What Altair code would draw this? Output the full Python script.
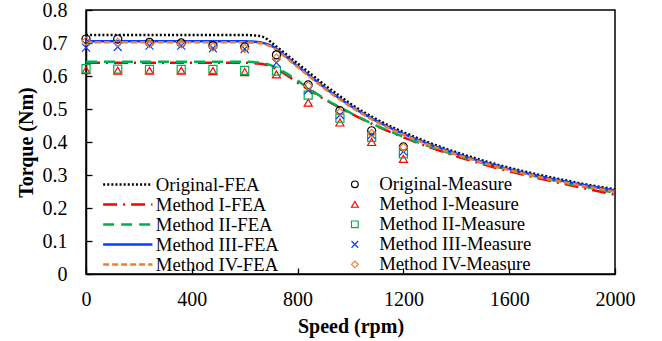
import altair as alt
import pandas as pd

# ---------------- data ----------------
fea_names = ["Original-FEA", "Method I-FEA", "Method II-FEA", "Method III-FEA", "Method IV-FEA"]
fea_speed = [0, 100, 200, 300, 400, 500, 600, 650, 680, 700, 750, 800, 850, 900, 950,
             1000, 1100, 1200, 1300, 1400, 1500, 1600, 1700, 1800, 1900, 2000]
orig_fea = [0.724, 0.724, 0.724, 0.724, 0.724, 0.724, 0.724, 0.722, 0.714, 0.702, 0.670, 0.638, 0.606, 0.574, 0.545,
            0.516, 0.468, 0.430, 0.397, 0.369, 0.344, 0.322, 0.303, 0.286, 0.270, 0.257]
m1_fea = [0.640, 0.640, 0.640, 0.640, 0.640, 0.640, 0.640, 0.638, 0.634, 0.628, 0.607, 0.580, 0.555, 0.530, 0.508,
          0.487, 0.448, 0.414, 0.384, 0.357, 0.333, 0.311, 0.292, 0.274, 0.257, 0.240]
m2_fea = [0.643, 0.643, 0.643, 0.643, 0.643, 0.643, 0.643, 0.641, 0.637, 0.632, 0.612, 0.586, 0.558, 0.532, 0.509,
          0.488, 0.449, 0.416, 0.386, 0.360, 0.336, 0.315, 0.296, 0.278, 0.262, 0.246]
m3_fea = [0.705, 0.705, 0.705, 0.705, 0.705, 0.705, 0.705, 0.703, 0.698, 0.692, 0.663, 0.630, 0.598, 0.566, 0.537,
          0.510, 0.463, 0.425, 0.393, 0.365, 0.340, 0.318, 0.299, 0.282, 0.267, 0.253]
m4_fea = [0.702, 0.702, 0.702, 0.702, 0.702, 0.702, 0.702, 0.700, 0.695, 0.689, 0.660, 0.627, 0.595, 0.563, 0.534,
          0.507, 0.460, 0.422, 0.390, 0.362, 0.337, 0.315, 0.296, 0.279, 0.264, 0.249]

meas_names = ["Original-Measure", "Method I-Measure", "Method II-Measure", "Method III-Measure", "Method IV-Measure"]
meas_speed = [0, 120, 240, 360, 480, 600, 720, 840, 960, 1080, 1200]
orig_meas = [0.712, 0.712, 0.702, 0.700, 0.692, 0.688, 0.664, 0.573, 0.495, 0.434, 0.385]
m1_meas = [0.618, 0.616, 0.616, 0.616, 0.615, 0.612, 0.605, 0.519, 0.459, 0.400, 0.349]
m2_meas = [0.622, 0.621, 0.620, 0.620, 0.620, 0.617, 0.615, 0.542, 0.472, 0.414, 0.364]
m3_meas = [0.686, 0.688, 0.692, 0.692, 0.684, 0.682, 0.640, 0.557, 0.482, 0.421, 0.371]
m4_meas = [0.706, 0.702, 0.698, 0.697, 0.688, 0.684, 0.655, 0.570, 0.490, 0.426, 0.384]

x_ticks = [0, 400, 800, 1200, 1600, 2000]
y_ticks = [0, 0.1, 0.2, 0.3, 0.4, 0.5, 0.6, 0.7, 0.8]

# ---------------- styles ----------------
FONT = "Liberation Serif"
fea_colors = ["#000000", "#FF0000", "#00B050", "#0A3CFF", "#ED7D31"]
fea_dashes = [[2, 2.1], [14, 6, 2, 6], [11, 7], [1, 0], [6, 3]]
meas_colors = ["#000000", "#FF0000", "#00B050", "#0A3CFF", "#ED7D31"]
meas_shapes = ["circle", "triangle-up", "square", "M-1,-1L1,1M-1,1L1,-1", "diamond"]

fea_df = pd.concat([
    pd.DataFrame({"series": n, "speed": fea_speed, "torque": v})
    for n, v in zip(fea_names, [orig_fea, m1_fea, m2_fea, m3_fea, m4_fea])
], ignore_index=True)
meas_df = pd.concat([
    pd.DataFrame({"series": n, "speed": meas_speed, "torque": v})
    for n, v in zip(meas_names, [orig_meas, m1_meas, m2_meas, m3_meas, m4_meas])
], ignore_index=True)

x_scale = alt.Scale(domain=[0, 2000], nice=False, zero=False)
y_scale = alt.Scale(domain=[0, 0.8], nice=False)

line_legend = alt.Legend(
    orient="none", legendX=32.3, legendY=165, title=None,
    symbolType="M-3,0H3", symbolSize=270, symbolStrokeWidth=2.5,
    labelFont=FONT, labelFontSize=18.7, labelFontWeight="normal", labelColor="black", labelOffset=18.5,
    rowPadding=0, padding=0, labelLimit=0,
)
point_legend = alt.Legend(
    orient="none", legendX=259.5, legendY=165, title=None,
    symbolSize=45, symbolStrokeWidth=1.2,
    labelFont=FONT, labelFontSize=18.7, labelFontWeight="normal", labelColor="black", labelOffset=15,
    rowPadding=0, padding=0, labelLimit=0,
)

lines = alt.Chart(fea_df).mark_line(strokeWidth=2.5, interpolate="monotone").encode(
    x=alt.X("speed:Q", scale=x_scale,
            axis=alt.Axis(values=x_ticks, format="d", ticks=False, tickSize=0, grid=False,
                          labelFlush=False, labelPadding=15, domainColor="black", domainWidth=1.5,
                          title="Speed (rpm)", titleY=52, titleBaseline="middle")),
    y=alt.Y("torque:Q", scale=y_scale,
            axis=alt.Axis(values=y_ticks, labelExpr="datum.value == 0 ? '0' : format(datum.value, '.1f')",
                          ticks=False, tickSize=0, grid=False, labelFlush=False, labelPadding=19,
                          domainColor="black", domainWidth=1.5,
                          title="Torque (Nm)", titleX=-60, titleY=132, titleBaseline="middle")),
    color=alt.Color("series:N", scale=alt.Scale(domain=fea_names, range=fea_colors), legend=line_legend),
    strokeDash=alt.StrokeDash("series:N", scale=alt.Scale(domain=fea_names, range=fea_dashes), legend=line_legend),
    order=alt.Order("speed:Q"),
)

points = alt.Chart(meas_df).mark_point(filled=False, strokeWidth=1.2, size=65, opacity=1).encode(
    x=alt.X("speed:Q", scale=x_scale,
            axis=alt.Axis(orient="top", offset=-264, values=x_ticks, labels=False, domain=False,
                          ticks=True, tickSize=6, tickWidth=1.3, tickColor="black", grid=False, title=None)),
    y=alt.Y("torque:Q", scale=y_scale,
            axis=alt.Axis(orient="right", offset=-529, values=y_ticks, labels=False, domain=False,
                          ticks=True, tickSize=6, tickWidth=1.3, tickColor="black", grid=False, title=None)),
    color=alt.Color("series:N", scale=alt.Scale(domain=meas_names, range=meas_colors), legend=point_legend),
    shape=alt.Shape("series:N", scale=alt.Scale(domain=meas_names, range=meas_shapes), legend=point_legend),
)

chart = alt.layer(lines, points).resolve_scale(
    color="independent", shape="independent", strokeDash="independent"
).resolve_legend(
    color="independent", shape="independent", strokeDash="independent"
).resolve_axis(
    x="independent", y="independent"
).properties(
    width=529, height=264,
    padding={"left": 86, "top": 10, "right": 47, "bottom": 67},
    autosize="none",
    background="white",
).configure_view(
    stroke="black", strokeWidth=1.5
).configure_axis(
    labelFont=FONT, labelFontSize=20, labelColor="black",
    titleFont=FONT, titleFontSize=20, titleFontWeight="bold", titleColor="black",
)

chart.save("out.html", embed_options={"renderer": "svg", "actions": False})
